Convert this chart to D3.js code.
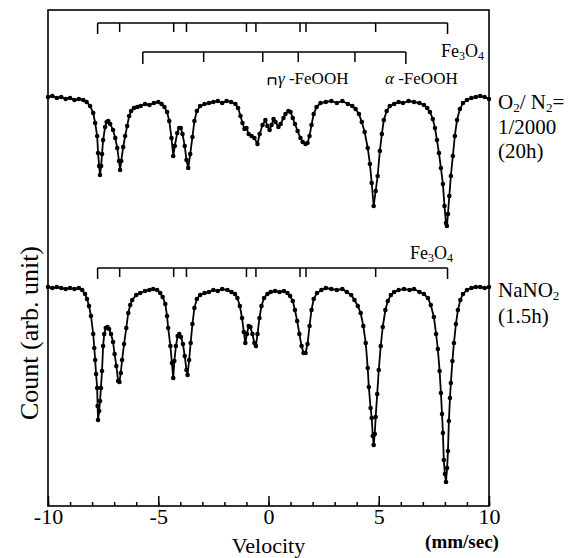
<!DOCTYPE html>
<html>
<head>
<meta charset="utf-8">
<script src="https://cdn.jsdelivr.net/npm/d3@7"></script>
<style>
    body { margin: 0; background: #fff; }
    svg text, svg tspan { font-family: "Liberation Serif", "Times New Roman", Times, serif !important; }
</style>
</head>
<body>
<div id="chart"></div>
<script>
// velocity (mm/sec) and counts (arb. unit)
var upperVelocity = [-10.0, -9.8, -9.6, -9.4, -9.2, -9.0, -8.8, -8.6, -8.4, -8.25, -8.09, -7.95, -7.86, -7.77, -7.73, -7.68, -7.64, -7.59, -7.55, -7.5,
    -7.41, -7.34, -7.27, -7.18, -7.05, -6.95, -6.86, -6.78, -6.73, -6.68, -6.59, -6.5, -6.41, -6.32, -6.23, -6.1, -5.95, -5.8, -5.6, -5.4,
    -5.2, -5.0, -4.85, -4.72, -4.6, -4.5, -4.4, -4.32, -4.25, -4.14, -4.05, -3.98, -3.9, -3.8, -3.72, -3.64, -3.55, -3.45, -3.36, -3.25,
    -3.1, -2.9, -2.7, -2.5, -2.3, -2.1, -1.9, -1.7, -1.5, -1.38, -1.27, -1.18, -1.09, -1.0, -0.9, -0.77, -0.64, -0.5, -0.4, -0.27,
    -0.14, -0.05, 0.05, 0.14, 0.23, 0.32, 0.45, 0.55, 0.68, 0.77, 0.9, 1.0, 1.1, 1.2, 1.32, 1.45, 1.55, 1.68, 1.77, 1.86,
    1.95, 2.05, 2.18, 2.36, 2.6, 2.85, 3.1, 3.35, 3.6, 3.8, 3.95, 4.1, 4.23, 4.36, 4.5, 4.6, 4.68, 4.77, 4.86, 4.95,
    5.05, 5.14, 5.23, 5.36, 5.5, 5.7, 5.9, 6.1, 6.35, 6.6, 6.85, 7.05, 7.2, 7.32, 7.45, 7.55, 7.64, 7.73, 7.82, 7.91,
    7.98, 8.05, 8.09, 8.14, 8.2, 8.27, 8.36, 8.45, 8.55, 8.68, 8.82, 9.0, 9.2, 9.4, 9.6, 9.8, 10.0];
var upperCount = [409, 410, 408, 409, 407, 408, 406, 407, 406, 404, 400, 393, 383, 370, 353, 340, 331, 340, 352, 366,
    379, 384, 385, 382, 376, 368, 358, 345, 336, 345, 359, 370, 380, 390, 395, 398, 399, 400, 402, 401,
    403, 404, 402, 399, 394, 385, 368, 350, 360, 373, 378, 378, 372, 360, 346, 338, 352, 369, 385, 395,
    400, 402, 403, 404, 405, 403, 405, 404, 402, 398, 390, 383, 377, 378, 372, 370, 368, 362, 372, 381,
    386, 380, 376, 381, 387, 384, 379, 382, 388, 392, 395, 394, 388, 382, 375, 368, 364, 362, 363, 370,
    381, 392, 399, 403, 404, 405, 403, 405, 402, 400, 397, 392, 384, 374, 358, 342, 323, 300, 315, 330,
    355, 372, 386, 395, 400, 402, 404, 403, 405, 404, 403, 401, 398, 394, 387, 378, 366, 353, 338, 322,
    300, 283, 280, 292, 310, 330, 350, 370, 386, 397, 403, 406, 408, 409, 410, 409, 407];

var lowerVelocity = [-10.0, -9.8, -9.6, -9.4, -9.2, -9.0, -8.8, -8.6, -8.45, -8.32, -8.23, -8.14, -8.05, -7.95, -7.9, -7.86, -7.82, -7.77, -7.75, -7.73,
    -7.68, -7.64, -7.6, -7.55, -7.5, -7.45, -7.38, -7.3, -7.23, -7.14, -7.05, -6.98, -6.9, -6.82, -6.76, -6.7, -6.64, -6.55, -6.45, -6.36,
    -6.27, -6.18, -6.0, -5.82, -5.6, -5.4, -5.23, -5.05, -4.91, -4.8, -4.68, -4.6, -4.55, -4.45, -4.38, -4.32, -4.27, -4.2, -4.12, -4.05,
    -3.97, -3.88, -3.8, -3.72, -3.67, -3.6, -3.53, -3.45, -3.36, -3.25, -3.1, -2.9, -2.7, -2.5, -2.3, -2.1, -1.86, -1.68, -1.52, -1.41,
    -1.3, -1.2, -1.12, -1.05, -0.98, -0.9, -0.82, -0.73, -0.64, -0.57, -0.5, -0.41, -0.32, -0.2, -0.05, 0.1, 0.3, 0.5, 0.7, 0.86,
    0.98, 1.1, 1.2, 1.3, 1.4, 1.5, 1.59, 1.68, 1.77, 1.86, 1.95, 2.05, 2.2, 2.4, 2.6, 2.85, 3.1, 3.35, 3.55, 3.75,
    3.9, 4.05, 4.18, 4.3, 4.41, 4.5, 4.55, 4.63, 4.68, 4.73, 4.77, 4.82, 4.86, 4.93, 5.0, 5.09, 5.18, 5.3, 5.41, 5.55,
    5.7, 5.9, 6.15, 6.4, 6.6, 6.85, 7.05, 7.23, 7.36, 7.5, 7.6, 7.68, 7.76, 7.82, 7.87, 7.91, 7.95, 8.0, 8.05, 8.1,
    8.14, 8.18, 8.23, 8.27, 8.34, 8.41, 8.5, 8.59, 8.7, 8.82, 9.0, 9.2, 9.4, 9.6, 9.8, 10.0];
var lowerCount = [219, 218, 219, 218, 217, 218, 217, 218, 216, 212, 207, 200, 190, 172, 158, 146, 132, 118, 100, 86,
    95, 105, 118, 135, 160, 172, 178, 179, 177, 172, 164, 152, 140, 125, 124, 133, 146, 162, 178, 193,
    201, 206, 211, 213, 215, 216, 217, 216, 213, 209, 202, 190, 178, 160, 143, 128, 145, 160, 170, 172,
    169, 162, 150, 136, 131, 146, 163, 182, 198, 207, 211, 213, 214, 216, 215, 217, 216, 214, 212, 208,
    200, 188, 174, 163, 172, 180, 179, 172, 163, 160, 172, 188, 200, 208, 212, 214, 215, 214, 215, 213,
    210, 205, 196, 185, 172, 160, 153, 153, 162, 180, 196, 207, 213, 216, 218, 217, 216, 217, 214, 211,
    206, 200, 193, 180, 163, 138, 119, 98, 88, 70, 61, 72, 89, 112, 136, 160, 179, 196, 205, 211,
    214, 216, 217, 216, 217, 214, 212, 208, 201, 189, 172, 157, 135, 113, 92, 73, 46, 32, 24, 38,
    55, 85, 108, 123, 145, 163, 182, 196, 206, 212, 216, 218, 219, 219, 218, 219];

// stick diagrams for the components
var fe3o4Lines = [-7.75, -6.75, -4.3, -3.72, -1.0, -0.57, 1.43, 1.7, 4.86, 8.12];
var alphaLines = [-5.7, -2.94, -0.26, 1.35, 3.92, 6.23];
var gammaLines = [0.0, 0.32];

var minorTicks = d3.range(-10, 11, 1);
var majorTicks = [-10, -5, 0, 5, 10];

var serif = "Liberation Serif";
var width = 583, height = 558;
var plot = { left: 48, right: 489, top: 10, bottom: 506 };

var x = d3.scaleLinear().domain([-10, 10]).range([plot.left, plot.right]);
var y = d3.scaleLinear().domain([0, 496]).range([plot.bottom, plot.top]);

var svg = d3.select("#chart")
    .append("svg")
    .attr("width", width)
    .attr("height", height)
    .attr("font-family", serif);

svg.append("rect")
    .attr("width", width)
    .attr("height", height)
    .attr("fill", "#fff");

// frame
svg.append("rect")
    .attr("x", plot.left)
    .attr("y", plot.top)
    .attr("width", plot.right - plot.left)
    .attr("height", plot.bottom - plot.top)
    .attr("fill", "none")
    .attr("stroke", "#000")
    .attr("stroke-width", 1.6);

// bottom axis: minor ticks every 1 mm/s, major every 5
var minorAxis = d3.axisBottom(x).tickValues(minorTicks).tickSize(-4).tickFormat("");
var majorAxis = d3.axisBottom(x).tickValues(majorTicks).tickSize(-10).tickPadding(2)
    .tickFormat(function (d) { return d < 0 ? "-" + Math.abs(d) : d; });

var gMinor = svg.append("g")
    .attr("transform", "translate(0," + plot.bottom + ")")
    .call(minorAxis);
var gMajor = svg.append("g")
    .attr("transform", "translate(0," + plot.bottom + ")")
    .call(majorAxis);
[gMinor, gMajor].forEach(function (g) {
    g.attr("font-family", serif);
    g.select(".domain").remove();
    g.selectAll(".tick line").attr("stroke", "#000").attr("stroke-width", 1.5);
});
gMajor.selectAll(".tick text")
    .attr("font-family", serif)
    .attr("font-size", 22)
    .attr("fill", "#000");

function label(xPos, yPos, size, txt) {
    return svg.append("text")
        .attr("x", xPos)
        .attr("y", yPos)
        .attr("font-family", serif)
        .attr("font-size", size)
        .attr("fill", "#000")
        .text(txt);
}

label(x(0), 553, 22, "Velocity").attr("text-anchor", "middle");
label(462, 548, 19, "(mm/sec)").attr("text-anchor", "middle").attr("font-weight", "bold");
label(0, 0, 26, "Count (arb. unit)")
    .attr("transform", "translate(38,333) rotate(-90)")
    .attr("text-anchor", "middle");

// spectra
function drawSpectrum(vel, cnt) {
    var pts = vel.map(function (v, i) { return [v, cnt[i]]; });
    var line = d3.line()
        .x(function (d) { return x(d[0]); })
        .y(function (d) { return y(d[1]); });
    svg.append("path")
        .datum(pts)
        .attr("d", line)
        .attr("fill", "none")
        .attr("stroke", "#000")
        .attr("stroke-width", 1.8);
    svg.append("g")
        .selectAll("circle")
        .data(pts)
        .join("circle")
        .attr("cx", function (d) { return x(d[0]); })
        .attr("cy", function (d) { return y(d[1]); })
        .attr("r", 2.3)
        .attr("fill", "#000");
}
drawSpectrum(upperVelocity, upperCount);
drawSpectrum(lowerVelocity, lowerCount);

// bracket with drop lines at each component line
function drawSticks(lines, yTop, len, endLen) {
    var g = svg.append("g").attr("stroke", "#000").attr("stroke-width", 1.5).attr("fill", "none");
    g.append("line")
        .attr("x1", x(d3.min(lines))).attr("x2", x(d3.max(lines)))
        .attr("y1", yTop).attr("y2", yTop);
    g.selectAll("line.stick")
        .data(lines)
        .join("line")
        .attr("class", "stick")
        .attr("x1", function (d) { return x(d); })
        .attr("x2", function (d) { return x(d); })
        .attr("y1", yTop)
        .attr("y2", function (d, i) { return yTop + (i === 0 || i === lines.length - 1 ? endLen : len); });
}
drawSticks(fe3o4Lines, 23, 9, 11);
drawSticks(alphaLines, 52, 10, 12);
drawSticks(gammaLines, 78, 7, 7);
drawSticks(fe3o4Lines, 268, 9, 11);

function fe3o4Label(xEnd, yBase) {
    var t = label(xEnd, yBase, 18, null).attr("text-anchor", "end");
    t.append("tspan").text("Fe");
    t.append("tspan").attr("dy", 3).attr("font-size", 12).text("3");
    t.append("tspan").attr("dy", -3).text("O");
    t.append("tspan").attr("dy", 3).attr("font-size", 12).text("4");
}
fe3o4Label(484, 57);
fe3o4Label(453, 259);

var gLab = label(278, 84, 17, null);
gLab.append("tspan").attr("font-style", "italic").text("γ");
gLab.append("tspan").text(" -FeOOH");
var aLab = label(385, 84, 17, null);
aLab.append("tspan").attr("font-style", "italic").text("α");
aLab.append("tspan").text(" -FeOOH");

// sample labels on the right, one baseline per line
function sampleLabel(lines, baselines) {
    lines.forEach(function (parts, i) {
        var t = label(498, baselines[i], 21, null);
        parts.forEach(function (p) {
            var s = t.append("tspan").text(p[0]);
            if (p[1]) s.attr("dy", 3).attr("font-size", 13);
            if (p[2]) s.attr("dy", -3);
        });
    });
}
sampleLabel([[["O"], ["2", true], ["/ N", false, true], ["2", true], ["=", false, true]], [["1/2000"]], [["(20h)"]]], [109, 134, 158]);
sampleLabel([[["NaNO"], ["2", true]], [["(1.5h)"]]], [297, 323]);
</script>
</body>
</html>
